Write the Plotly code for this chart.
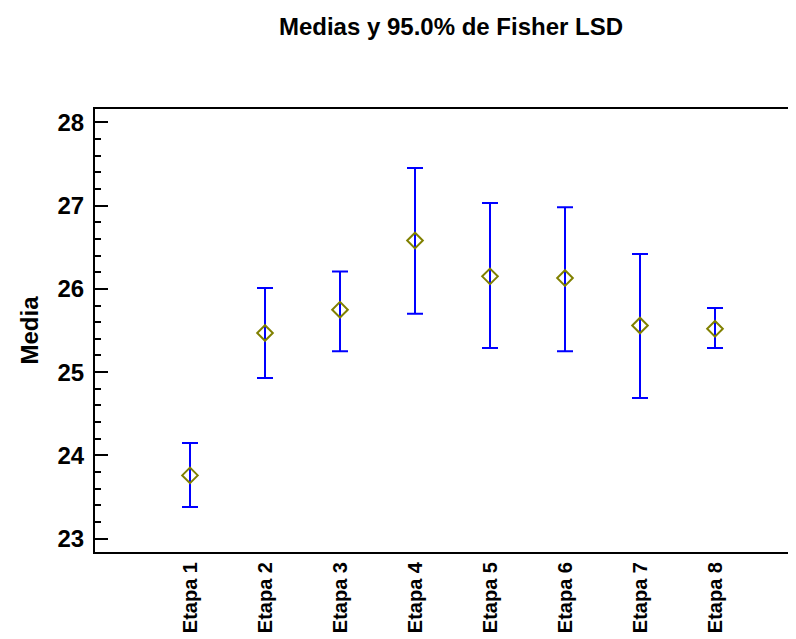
import plotly.graph_objects as go

etapas = ["Etapa 1", "Etapa 2", "Etapa 3", "Etapa 4", "Etapa 5", "Etapa 6", "Etapa 7", "Etapa 8"]
medias = [23.76, 25.47, 25.75, 26.58, 26.15, 26.13, 25.56, 25.52]
superior = [24.15, 26.01, 26.21, 27.45, 27.03, 26.98, 26.42, 25.77]
inferior = [23.38, 24.93, 25.25, 25.70, 25.29, 25.25, 24.69, 25.29]
y_ticks = [23, 24, 25, 26, 27, 28]

err_plus = [u - m for u, m in zip(superior, medias)]
err_minus = [m - l for m, l in zip(medias, inferior)]

FONT = "Liberation Sans, Arial, sans-serif"
yr = [22.84, 28.16]

fig = go.Figure()
fig.add_trace(go.Scatter(
    x=etapas, y=medias, mode="markers",
    marker=dict(symbol="diamond-open", size=12, color="#808000", line=dict(width=2, color="#808000")),
    error_y=dict(type="data", symmetric=False, array=err_plus, arrayminus=err_minus,
                 color="#0000FF", thickness=2, width=8),
    showlegend=False,
))
fig.add_trace(go.Scatter(x=etapas, y=medias, yaxis="y2", mode="markers",
                         marker=dict(opacity=0), showlegend=False, hoverinfo="skip"))

fig.update_layout(
    width=796, height=639,
    margin=dict(l=87, r=0, t=101, b=95),
    paper_bgcolor="white", plot_bgcolor="white",
    font=dict(family=FONT, color="black"),
    title=dict(text="Medias y 95.0% de Fisher LSD", x=(443 - 87) / 709, xref="paper", xanchor="center",
               y=1 - 19 / 639, yref="container", yanchor="middle",
               font=dict(size=24, family=FONT, color="black", weight="bold")),
    xaxis=dict(type="category", range=[-1.2667, 8.1867], showline=True, linewidth=2, linecolor="black",
               mirror=True, ticks="", showgrid=False, zeroline=False, tickangle=-90,
               tickfont=dict(size=20, family=FONT, color="black", weight="bold")),
    yaxis=dict(range=yr, tickvals=y_ticks, showline=True, linewidth=2, linecolor="black",
               ticks="inside", ticklen=13, tickwidth=2, tickcolor="black", ticklabelstandoff=4,
               minor=dict(dtick=0.2, tick0=23, ticks="inside", ticklen=6, tickwidth=2, tickcolor="black", showgrid=False),
               showgrid=False, zeroline=False,
               tickfont=dict(size=24, family=FONT, color="black", weight="bold"),
               title=dict(text="Media", standoff=12, font=dict(size=24, family=FONT, color="black", weight="bold"))),
    yaxis2=dict(range=yr, tickvals=y_ticks, overlaying="y", side="right", showline=False,
                ticks="inside", ticklen=8, tickwidth=2, tickcolor="black", showticklabels=False,
                showgrid=False, zeroline=False),
)

fig.write_html("out.html")
